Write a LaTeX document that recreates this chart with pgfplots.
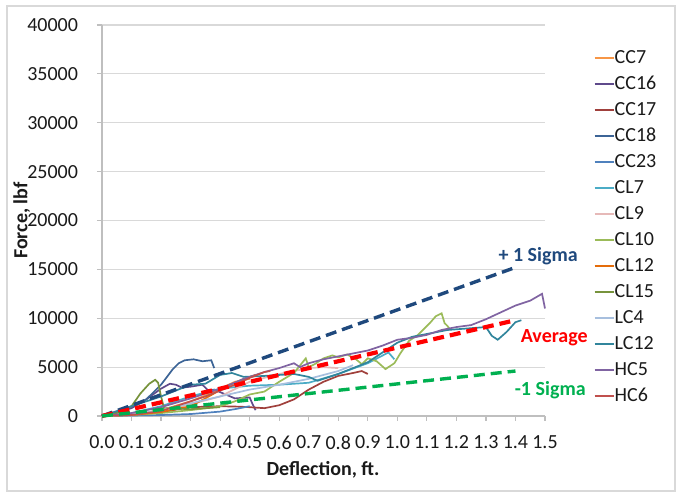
\documentclass[border=0pt]{standalone}
\usepackage{pgfplots}
\pgfplotsset{compat=1.18}
\usepackage{fontspec}
\setmainfont{Carlito}
\definecolor{cCCseven}{HTML}{F79646}
\definecolor{cCCsixteen}{HTML}{5F4A8B}
\definecolor{cCCseventeen}{HTML}{A0403C}
\definecolor{cCCeighteen}{HTML}{3C6496}
\definecolor{cCCtwentythree}{HTML}{4F81BD}
\definecolor{cCLseven}{HTML}{4BACC6}
\definecolor{cCLnine}{HTML}{E6B9B8}
\definecolor{cCLten}{HTML}{9BBB59}
\definecolor{cCLtwelve}{HTML}{E46C0A}
\definecolor{cCLfifteen}{HTML}{77933C}
\definecolor{cLCfour}{HTML}{A7BFDE}
\definecolor{cLCtwelve}{HTML}{31859C}
\definecolor{cHCfive}{HTML}{8064A2}
\definecolor{cHCsix}{HTML}{C0504D}
\definecolor{sigup}{HTML}{1F497D}
\definecolor{sigdn}{HTML}{00B050}
\definecolor{gridc}{HTML}{D9D9D9}
\definecolor{axc}{HTML}{BFBFBF}
\definecolor{txt}{HTML}{1A1A1A}
\newcommand{\ff}{\fontsize{10}{11}\selectfont}
\begin{document}
\begin{tikzpicture}
\useasboundingbox (0,0) rectangle (338.5pt,246.5pt);
\draw[gridc, line width=0.6pt] (3.5pt,1pt) rectangle (337.5pt,243.5pt);
\begin{axis}[
  at={(51pt,38.5pt)}, anchor=south west,
  scale only axis, width=221.5pt, height=195.5pt,
  xmin=0, xmax=1.5, ymin=0, ymax=40000,
  enlargelimits=false, clip=false,
  axis lines=left, axis line style={-, draw=axc, line width=0.6pt},
  xtick={0,0.1,...,1.51}, ytick={0,5000,...,40000},
  xticklabels={0.0,0.1,0.2,0.3,0.4,0.5,0.6,0.7,0.8,0.9,1.0,1.1,1.2,1.3,1.4,1.5},
  scaled y ticks=false,
  /pgf/number format/fixed, /pgf/number format/1000 sep={},
  /pgf/number format/assume math mode=true,
  tick align=outside, major tick length=2.5pt,
  tick style={draw=axc, line width=0.6pt},
  ymajorgrids, grid style={draw=gridc, line width=0.6pt},
  every tick label/.append style={font=\ff, text=txt},
  xticklabel style={anchor=north, inner sep=0pt, yshift=-7.3pt},
  yticklabel style={anchor=east, inner sep=0pt, xshift=-9.3pt},
  xlabel={\textbf{Deflection, ft.}}, ylabel={\textbf{Force, lbf}},
  label style={font=\ff, text=txt},
  xlabel style={at={(axis description cs:0.499,-0.138)}, anchor=center},
  ylabel style={at={(axis description cs:-0.181,0.5)}, anchor=center},
  legend style={draw=none, fill=none, at={(axis description cs:1.110,0.935)}, anchor=north west,
    font=\ff, text=txt, inner sep=0pt, outer sep=0pt, row sep=5pt,
    nodes={inner sep=0pt, text height=6.5pt, text depth=1.5pt}},
  legend cell align=left,
  legend image code/.code={\draw[#1, line width=1pt] (0pt,0pt) -- (9.5pt,0pt);},
  every axis plot/.append style={line width=0.85pt},
]
% CC7
\addplot[cCCseven] coordinates {(0,0) (0.1,150) (0.2,600) (0.3,1500) (0.35,2100) (0.4,2800) (0.45,3500) (0.5,3800)};
\addlegendentry{CC7}
% CC16
\addplot[cCCsixteen] coordinates {(0,0) (0.1,800) (0.15,1700) (0.2,2800) (0.23,3300) (0.25,3200) (0.27,2900) (0.3,3000) (0.34,3200) (0.36,2600) (0.38,2700) (0.45,1800) (0.5,1900) (0.51,1200) (0.52,600)};
\addlegendentry{CC16}
% CC17
\addplot[cCCseventeen] coordinates {(0,0) (0.2,400) (0.3,900) (0.4,1000) (0.47,950) (0.5,900) (0.55,800) (0.6,1100) (0.65,1700) (0.7,2700) (0.75,3500) (0.8,4100) (0.85,4400) (0.88,4600) (0.9,4300)};
\addlegendentry{CC17}
% CC18
\addplot[cCCeighteen] coordinates {(0,0) (0.05,400) (0.1,1000) (0.15,1700) (0.2,3200) (0.24,4800) (0.26,5400) (0.28,5700) (0.31,5800) (0.34,5600) (0.37,5700) (0.38,4900)};
\addlegendentry{CC18}
% CC23
\addplot[cCCtwentythree] coordinates {(0,0) (0.1,50) (0.2,100) (0.3,200) (0.4,450) (0.45,700) (0.5,1000)};
\addlegendentry{CC23}
% CL7
\addplot[cCLseven] coordinates {(0,0) (0.1,300) (0.2,1000) (0.3,2000) (0.4,2800) (0.5,3100) (0.6,3200) (0.7,3400) (0.8,4300) (0.9,5400) (0.97,6500) (0.99,5800)};
\addlegendentry{CL7}
% CL9
\addplot[cCLnine] coordinates {(0,0) (0.2,500) (0.3,1200) (0.4,2000) (0.5,3500) (0.6,4300) (0.7,4900) (0.75,5000) (0.8,4900)};
\addlegendentry{CL9}
% CL10
\addplot[cCLten] coordinates {(0,0) (0.1,100) (0.2,300) (0.3,600) (0.38,900) (0.4,1000) (0.45,1500) (0.5,2200) (0.55,2500) (0.6,3500) (0.65,4400) (0.69,5900) (0.7,5000) (0.72,5300) (0.75,5900) (0.78,6200) (0.8,6000) (0.83,6300) (0.86,5800) (0.88,5300) (0.9,5900) (0.93,5600) (0.96,4800) (0.99,5400) (1.01,6400) (1.04,7700) (1.07,8300) (1.09,8900) (1.11,9500) (1.13,10200) (1.15,10500) (1.16,9500) (1.17,9200) (1.18,8800)};
\addlegendentry{CL10}
% CL12
\addplot[cCLtwelve] coordinates {(0,0) (0.1,100) (0.2,400) (0.3,1000) (0.35,1800) (0.42,3000) (0.48,3800) (0.52,4200)};
\addlegendentry{CL12}
% CL15
\addplot[cCLfifteen] coordinates {(0,0) (0.05,300) (0.1,1000) (0.13,2300) (0.16,3300) (0.18,3700) (0.19,3400) (0.2,2000) (0.21,800) (0.3,700) (0.4,900)};
\addlegendentry{CL15}
% LC4
\addplot[cLCfour] coordinates {(0,0) (0.1,150) (0.2,600) (0.3,1300) (0.4,2000) (0.5,2700) (0.6,3200) (0.7,3800) (0.8,4600) (0.85,5200)};
\addlegendentry{LC4}
% LC12
\addplot[cLCtwelve] coordinates {(0,0) (0.1,1000) (0.2,2000) (0.3,3200) (0.35,3300) (0.4,4200) (0.44,4400) (0.48,4000) (0.55,4100) (0.65,4300) (0.7,4000) (0.73,3600) (0.8,4300) (0.9,5500) (0.95,6500) (1.0,7500) (1.05,8100) (1.17,8800) (1.3,9100) (1.32,8200) (1.34,7800) (1.37,8600) (1.4,9600) (1.42,9800)};
\addlegendentry{LC12}
% HC5
\addplot[cHCfive] coordinates {(0,0) (0.1,300) (0.2,900) (0.3,1800) (0.4,2800) (0.48,3800) (0.55,4500) (0.6,4900) (0.65,5400) (0.67,5000) (0.7,5400) (0.75,5800) (0.8,6100) (0.85,6400) (0.9,6700) (0.95,7200) (1.0,7800) (1.05,8000) (1.1,8300) (1.15,8800) (1.2,9100) (1.25,9300) (1.3,9900) (1.35,10600) (1.4,11300) (1.45,11800) (1.49,12500) (1.5,11000)};
\addlegendentry{HC5}
% HC6
\addplot[cHCsix] coordinates {(0,0) (0.1,100) (0.2,500) (0.3,1500) (0.35,2000) (0.4,2600) (0.45,3200) (0.5,3900) (0.55,4500) (0.57,4600)};
\addlegendentry{HC6}
% sigma lines
\addplot[sigup, line width=1.7pt, dash pattern=on 5.5pt off 3pt, forget plot] coordinates {(0,0) (1.4,15200)};
\addplot[red, line width=2.1pt, dash pattern=on 5.5pt off 3pt, forget plot] coordinates {(0,0) (1.4,9800)};
\addplot[sigdn, line width=1.7pt, dash pattern=on 5.5pt off 3pt, forget plot] coordinates {(0,0) (1.4,4600)};
\node[anchor=east, font=\ff\bfseries, text=sigup, inner sep=0pt] at (axis cs:1.612,16300) {+ 1 Sigma};
\node[anchor=east, font=\ff\bfseries, text=red, inner sep=0pt] at (axis cs:1.646,7980) {Average};
\node[anchor=east, font=\ff\bfseries, text=sigdn, inner sep=0pt] at (axis cs:1.639,2660) {-1 Sigma};
\end{axis}
\end{tikzpicture}
\end{document}
